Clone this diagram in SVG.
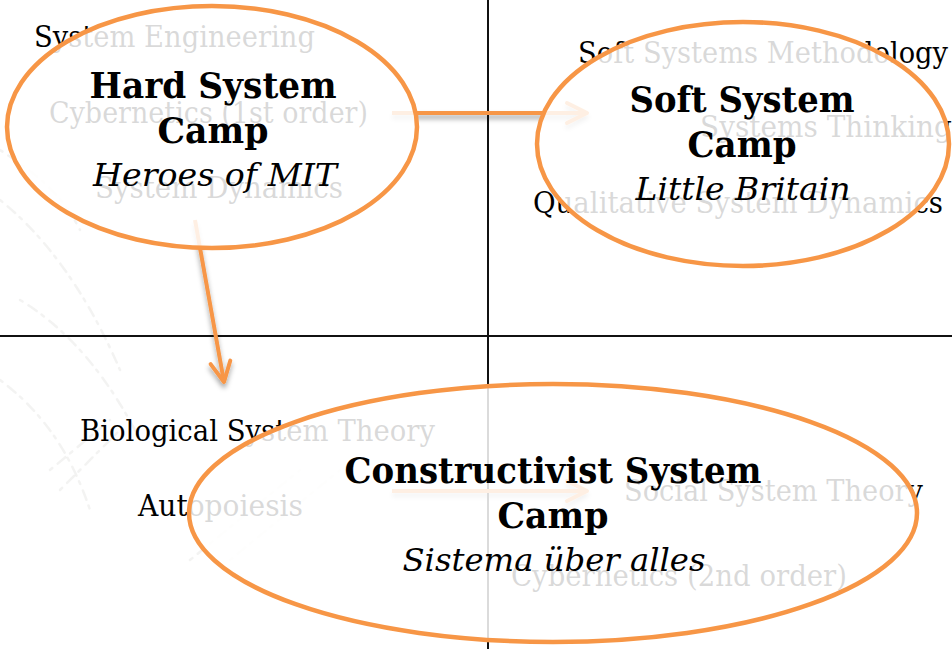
<svg xmlns="http://www.w3.org/2000/svg" width="952" height="649" viewBox="0 0 952 649">
  <style>
    .grid { stroke: #111; stroke-width: 2; }
    .topic { font-family: "DejaVu Serif", "Liberation Serif", serif; font-size: 30px; fill: #000; }
    .camp { fill: #fff; fill-opacity: 0.85; stroke: #F79646; stroke-width: 4.5; }
    .title { font-family: "DejaVu Serif", "Liberation Serif", serif; font-size: 35px; font-weight: bold; fill: #000; text-anchor: middle; }
    .sub { font-family: "DejaVu Serif", "Liberation Serif", serif; font-size: 32px; font-style: italic; fill: #000; text-anchor: middle; }
    .conn { stroke: #F79646; stroke-width: 4; fill: none; }
    .sketch { stroke: #a4a49a; stroke-width: 2.5; fill: none; stroke-dasharray: 3 7 10 6; stroke-linecap: round; opacity: 0.13; }
  </style>
  <defs>
    <marker id="head" markerUnits="userSpaceOnUse" viewBox="-24 -14 28 28" refX="0" refY="0" markerWidth="28" markerHeight="28" orient="auto">
      <path d="M-20,-10 L0,0 L-20,10" fill="none" stroke="#F79646" stroke-width="4" stroke-linecap="round" stroke-linejoin="round"/>
    </marker>
    <filter id="shadow" x="-20%" y="-20%" width="140%" height="140%">
      <feDropShadow dx="0" dy="4" stdDeviation="2.5" flood-color="#000" flood-opacity="0.35"/>
    </filter>
  </defs>
  <rect width="952" height="649" fill="#fff"/>
  <g id="background-sketch">
    <path class="sketch" d="M0,200 C50,240 90,300 120,370"/>
    <path class="sketch" d="M20,300 C70,330 110,380 140,440"/>
    <path class="sketch" d="M0,380 C40,410 70,450 90,510"/>
    <path class="sketch" d="M50,470 L110,420"/>
    <path class="sketch" d="M60,490 L120,430"/>
    <path class="sketch" d="M190,560 L300,470"/>
    <path class="sketch" d="M230,560 L340,470"/>
    <path class="sketch" d="M0,150 C30,170 60,190 80,230"/>
  </g>
  <g id="quadrants">
    <line class="grid" x1="488" y1="0" x2="488" y2="649"/>
    <line class="grid" x1="0" y1="336" x2="952" y2="336"/>
  </g>
  <g id="topics">
    <text class="topic" x="34" y="47" textLength="281" lengthAdjust="spacingAndGlyphs">System Engineering</text>
    <text class="topic" x="49" y="123" textLength="319" lengthAdjust="spacingAndGlyphs">Cybernetics (1st order)</text>
    <text class="topic" x="95" y="198" textLength="248" lengthAdjust="spacingAndGlyphs">System Dynamics</text>
    <text class="topic" x="578" y="63" textLength="370" lengthAdjust="spacingAndGlyphs">Soft Systems Methodology</text>
    <text class="topic" x="700" y="137" textLength="252" lengthAdjust="spacingAndGlyphs">Systems Thinking</text>
    <text class="topic" x="533" y="213" textLength="410" lengthAdjust="spacingAndGlyphs">Qualitative System Dynamics</text>
    <text class="topic" x="80" y="441" textLength="355" lengthAdjust="spacingAndGlyphs">Biological System Theory</text>
    <text class="topic" x="138" y="516" textLength="165" lengthAdjust="spacingAndGlyphs">Autopoiesis</text>
    <text class="topic" x="624" y="501" textLength="299" lengthAdjust="spacingAndGlyphs">Social System Theory</text>
    <text class="topic" x="511" y="586" textLength="336" lengthAdjust="spacingAndGlyphs">Cybernetics (2nd order)</text>
  </g>
  <g id="connectors" filter="url(#shadow)">
    <line class="conn" x1="392" y1="113" x2="587" y2="113" marker-end="url(#head)"/>
    <line class="conn" x1="195" y1="220" x2="224" y2="382" marker-end="url(#head)"/>
    <line class="conn" x1="392" y1="491" x2="587" y2="491" marker-end="url(#head)"/>
  </g>
  <g id="hard-system-camp">
    <ellipse class="camp" cx="212" cy="127" rx="205" ry="121"/>
    <text class="title" x="213" y="98" textLength="247" lengthAdjust="spacingAndGlyphs">Hard System</text>
    <text class="title" x="213" y="143" textLength="111" lengthAdjust="spacingAndGlyphs">Camp</text>
    <text class="sub" x="215" y="186" textLength="244" lengthAdjust="spacingAndGlyphs">Heroes of MIT</text>
  </g>
  <g id="soft-system-camp">
    <ellipse class="camp" cx="743" cy="144" rx="206" ry="122"/>
    <text class="title" x="742" y="112" textLength="225" lengthAdjust="spacingAndGlyphs">Soft System</text>
    <text class="title" x="742" y="157" textLength="109" lengthAdjust="spacingAndGlyphs">Camp</text>
    <text class="sub" x="743" y="200" textLength="215" lengthAdjust="spacingAndGlyphs">Little Britain</text>
  </g>
  <g id="constructivist-system-camp">
    <ellipse class="camp" cx="553" cy="513" rx="364" ry="129"/>
    <text class="title" x="553" y="483" textLength="417" lengthAdjust="spacingAndGlyphs">Constructivist System</text>
    <text class="title" x="553" y="528" textLength="111" lengthAdjust="spacingAndGlyphs">Camp</text>
    <text class="sub" x="554" y="571" textLength="303" lengthAdjust="spacingAndGlyphs">Sistema über alles</text>
  </g>
</svg>
